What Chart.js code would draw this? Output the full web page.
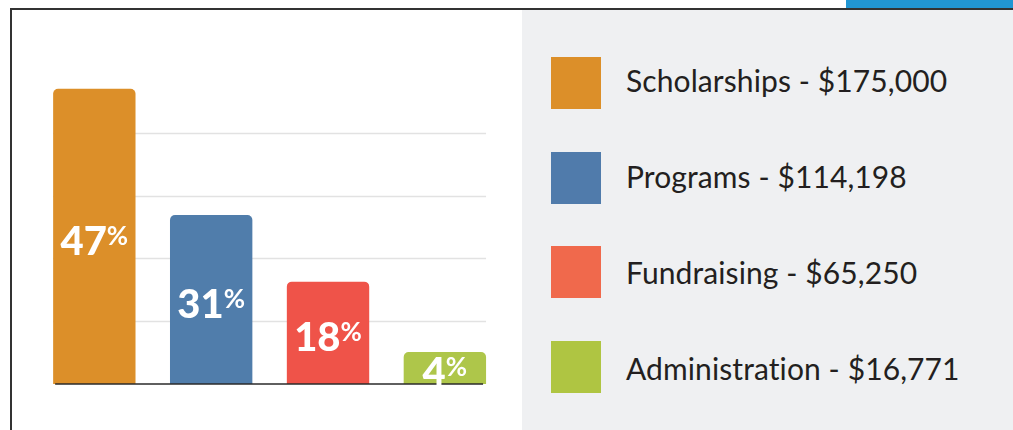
<!DOCTYPE html>
<html>
<head>
<meta charset="utf-8">
<script src="https://cdn.jsdelivr.net/npm/chart.js@4.4.1/dist/chart.umd.min.js"></script>
<style>
  html, body { margin: 0; padding: 0; }
  body { width: 1013px; height: 430px; overflow: hidden; background: #ffffff; position: relative; font-family: Lato, "Noto Sans", sans-serif; }
  #topbar { position: absolute; left: 846px; top: 0; width: 167px; height: 8px; background: #2196d3; }
  #frame { position: absolute; left: 10px; top: 8px; right: 0; bottom: -4px; border-top: 2px solid #333; border-left: 2px solid #333; }
  #panel { position: absolute; left: 522px; top: 10px; width: 491px; height: 420px; background: #eff0f2; }
  #chartBox { position: absolute; left: 12px; top: 10px; width: 510px; height: 420px; }
  .sw { position: absolute; left: 551px; width: 50px; height: 52px; }
  .lt { position: absolute; left: 626px; font-size: 30px; line-height: 30px; color: #231f20; white-space: nowrap; font-variant-ligatures: none; font-feature-settings: "liga" 0; letter-spacing: 0.1px; }
</style>
</head>
<body>
<div id="topbar"></div>
<div id="frame"></div>
<div id="panel"></div>
<div id="chartBox"><canvas id="c" width="510" height="420"></canvas></div>
<div id="legend"></div>
<script>
// ---- data ----
const categories = ['Scholarships', 'Programs', 'Fundraising', 'Administration'];
const amounts = ['$175,000', '$114,198', '$65,250', '$16,771'];
const barHeights = [47, 26.9, 16.3, 5.1];      // bar heights as drawn (gridline = 10 units)
const percentLabels = ['47', '31', '18', '4'];
const gridTicks = [10, 20, 30, 40];
const barColors = ['#dc8f29', '#507dab', '#ef5349', '#aec64a'];
const legendColors = ['#dc8f29', '#507bab', '#f0694c', '#afc542'];

// ---- legend (HTML) ----
const legend = document.getElementById('legend');
categories.forEach((cat, i) => {
  const sw = document.createElement('div');
  sw.className = 'sw';
  sw.style.top = (57 + 94.6 * i) + 'px';
  sw.style.background = legendColors[i];
  legend.appendChild(sw);
  const t = document.createElement('div');
  t.className = 'lt';
  t.style.top = (81.3 + 96 * i - 15.9) + 'px';
  t.textContent = cat + ' - ' + amounts[i];
  legend.appendChild(t);
});

// ---- chart ----
const decor = {
  id: 'decor',
  beforeDatasetsDraw(chart) {
    const ctx = chart.ctx;
    const meta = chart.getDatasetMeta(0);
    const f = meta.data[0], l = meta.data[meta.data.length - 1];
    const x0 = f.x - f.width / 2, x1 = l.x + l.width / 2;
    ctx.save();
    ctx.strokeStyle = '#e2e2e2';
    ctx.lineWidth = 1.5;
    gridTicks.forEach(v => {
      const y = Math.round(chart.scales.y.getPixelForValue(v)) + 0.5;
      ctx.beginPath(); ctx.moveTo(x0, y); ctx.lineTo(x1, y); ctx.stroke();
    });
    ctx.restore();
  },
  afterDatasetsDraw(chart) {
    const ctx = chart.ctx;
    const meta = chart.getDatasetMeta(0);
    const f = meta.data[0], l = meta.data[meta.data.length - 1];
    const x0 = f.x - f.width / 2, x1 = l.x + l.width / 2;
    const yb = chart.scales.y.getPixelForValue(0);
    ctx.save();
    ctx.strokeStyle = '#2a2a2a';
    ctx.lineWidth = 1.5;
    ctx.beginPath(); ctx.moveTo(x0 + 2, yb); ctx.lineTo(x1 - 3, yb); ctx.stroke();
    // value labels
    ctx.fillStyle = '#ffffff';
    ctx.textBaseline = 'alphabetic';
    meta.data.forEach((bar, i) => {
      const numFont = '900 40px Lato, "Noto Sans", sans-serif';
      const pctFont = '700 26px Lato, "Noto Sans", sans-serif';
      ctx.font = numFont;
      const nm = ctx.measureText(percentLabels[i]);
      const capH = ctx.measureText('4').actualBoundingBoxAscent;
      ctx.font = pctFont;
      const pm = ctx.measureText('%');
      const pH = pm.actualBoundingBoxAscent;
      const total = nm.width + pm.width;
      const cx = bar.x;
      const cy = (bar.y + bar.base) / 2 + 4;
      const base = cy + capH / 2;
      const sx = cx - total / 2;
      ctx.font = numFont;
      ctx.textAlign = 'left';
      ctx.fillText(percentLabels[i], sx, base);
      ctx.font = pctFont;
      ctx.fillText('%', sx + nm.width, base - capH + pH);
    });
    ctx.restore();
  }
};

new Chart(document.getElementById('c'), {
  type: 'bar',
  data: {
    labels: categories,
    datasets: [{
      data: barHeights,
      backgroundColor: barColors,
      borderRadius: 5,
      borderSkipped: 'start',
      barPercentage: 0.705,
      categoryPercentage: 1
    }]
  },
  options: {
    responsive: false,
    animation: false,
    events: [],
    layout: { padding: { left: 23.9, right: 18.7, top: 60, bottom: 46 } },
    plugins: { legend: { display: false }, tooltip: { enabled: false } },
    scales: {
      x: { display: false },
      y: { display: false, min: 0, max: 50 }
    }
  },
  plugins: [decor]
});
</script>
</body>
</html>
